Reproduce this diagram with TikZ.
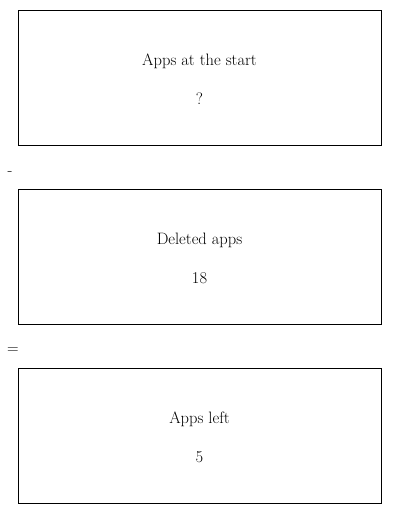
\documentclass[tikz,border=0pt]{standalone}
\usetikzlibrary{positioning}
\tikzset{
  appbox/.style={draw, minimum width=363pt, minimum height=135pt, inner sep=0pt},
  apptext/.style={align=center, inner sep=0pt, font=\fontsize{16.5}{19}\selectfont},
  sign/.style={inner sep=0pt, font=\fontsize{16}{19}\selectfont}
}
\begin{document}
\begin{tikzpicture}[x=1pt,y=-1pt]
\useasboundingbox (0,0) rectangle (400,514);
% the three amounts
\node[appbox] (start) at (199.5,77.5) {};
\node[apptext] (starttext) at (199.5,79.5) {Apps at the start\\[20pt]?};
\node[appbox] (deleted) at (199.5,256.5) {};
\node[apptext] (deletedtext) at (199.5,258.5) {Deleted apps\\[20pt]18};
\node[appbox] (left) at (199.5,435.5) {};
\node[apptext] (lefttext) at (199.5,437.5) {Apps left\\[20pt]5};
% operators
\node[sign] (minus) at (10,174) {-};
\node[sign] (equals) at (13,351) {=};
\end{tikzpicture}
\end{document}
